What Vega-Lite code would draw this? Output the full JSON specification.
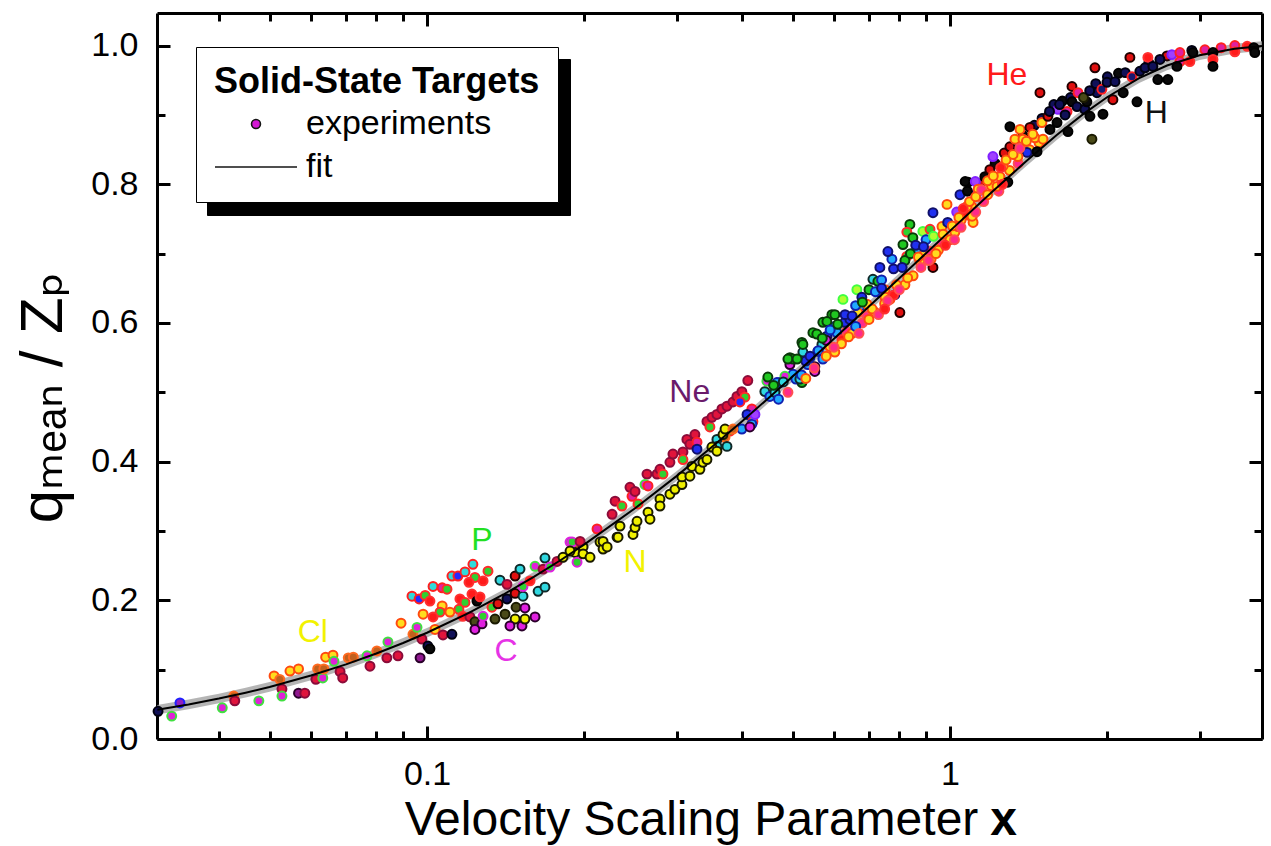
{
  "$schema": "https://vega.github.io/schema/vega-lite/v6.json",
  "width": 1105,
  "height": 726,
  "autosize": {"type": "none"},
  "padding": {"left": 157, "top": 13, "right": 9, "bottom": 107},
  "background": "white",
  "config": {
    "view": {"stroke": null},
    "font": "Liberation Sans",
    "axis": {
      "domainColor": "black", "domainWidth": 3, "tickColor": "black", "tickWidth": 3,
      "labelFont": "Liberation Sans", "labelFontSize": 34, "labelColor": "black",
      "titleFont": "Liberation Sans", "titleColor": "black", "grid": false,
      "labelFlush": false, "labelOverlap": false
    }
  },
  "datasets": {
    "fit": [
      {"x":0.0305,"f":0.0422,"lo":0.0352,"hi":0.0492},
      {"x":0.035,"f":0.0499,"lo":0.0429,"hi":0.0569},
      {"x":0.04,"f":0.0584,"lo":0.0514,"hi":0.0654},
      {"x":0.045,"f":0.0668,"lo":0.0598,"hi":0.0738},
      {"x":0.05,"f":0.0751,"lo":0.0681,"hi":0.0821},
      {"x":0.06,"f":0.0916,"lo":0.0846,"hi":0.0986},
      {"x":0.07,"f":0.1076,"lo":0.1006,"hi":0.1146},
      {"x":0.08,"f":0.1233,"lo":0.1163,"hi":0.1303},
      {"x":0.09,"f":0.1385,"lo":0.1315,"hi":0.1455},
      {"x":0.1,"f":0.1532,"lo":0.1462,"hi":0.1602},
      {"x":0.12,"f":0.1816,"lo":0.1746,"hi":0.1886},
      {"x":0.14,"f":0.2084,"lo":0.2014,"hi":0.2154},
      {"x":0.16,"f":0.2337,"lo":0.2267,"hi":0.2407},
      {"x":0.18,"f":0.2578,"lo":0.2508,"hi":0.2648},
      {"x":0.2,"f":0.2806,"lo":0.2736,"hi":0.2876},
      {"x":0.25,"f":0.3328,"lo":0.3258,"hi":0.3398},
      {"x":0.3,"f":0.3791,"lo":0.3721,"hi":0.3861},
      {"x":0.35,"f":0.4206,"lo":0.4136,"hi":0.4276},
      {"x":0.4,"f":0.4579,"lo":0.4509,"hi":0.4649},
      {"x":0.45,"f":0.4918,"lo":0.4848,"hi":0.4988},
      {"x":0.5,"f":0.5227,"lo":0.5157,"hi":0.5297},
      {"x":0.6,"f":0.5771,"lo":0.5701,"hi":0.5841},
      {"x":0.7,"f":0.6238,"lo":0.6168,"hi":0.6308},
      {"x":0.8,"f":0.6646,"lo":0.6576,"hi":0.6716},
      {"x":0.9,"f":0.7006,"lo":0.6936,"hi":0.7076},
      {"x":1.0,"f":0.7328,"lo":0.7258,"hi":0.7398},
      {"x":1.2,"f":0.7880,"lo":0.7810,"hi":0.7950},
      {"x":1.4,"f":0.8335,"lo":0.8265,"hi":0.8405},
      {"x":1.6,"f":0.8710,"lo":0.8640,"hi":0.8780},
      {"x":1.8,"f":0.9015,"lo":0.8945,"hi":0.9085},
      {"x":2.0,"f":0.9259,"lo":0.9189,"hi":0.9329},
      {"x":2.3,"f":0.9531,"lo":0.9461,"hi":0.9601},
      {"x":2.6,"f":0.9713,"lo":0.9643,"hi":0.9783},
      {"x":3.0,"f":0.9861,"lo":0.9791,"hi":0.9931},
      {"x":3.5,"f":0.9955,"lo":0.9885,"hi":1.0025},
      {"x":3.95,"f":0.9994,"lo":0.9924,"hi":1.0064}
    ],
    "lab": [
      {"x":1.285,"y":0.958,"t":"He"},
      {"x":2.48,"y":0.903,"t":"H"},
      {"x":0.318,"y":0.500,"t":"Ne"},
      {"x":0.1274,"y":0.287,"t":"P"},
      {"x":0.2499,"y":0.255,"t":"N"},
      {"x":0.0605,"y":0.155,"t":"Cl"},
      {"x":0.1416,"y":0.127,"t":"C"}
    ],
    "pts": [
      {"x":0.0306,"y":0.040,"g":"NV"},{"x":0.0325,"y":0.033,"g":"MG"},{"x":0.0337,"y":0.052,"g":"PU"},
      {"x":0.0406,"y":0.045,"g":"MG"},{"x":0.0427,"y":0.062,"g":"BR"},{"x":0.0429,"y":0.055,"g":"RP"},
      {"x":0.0477,"y":0.055,"g":"MG"},{"x":0.0510,"y":0.091,"g":"YO"},{"x":0.0523,"y":0.086,"g":"BR"},
      {"x":0.0528,"y":0.072,"g":"RP"},{"x":0.0528,"y":0.062,"g":"MG"},{"x":0.0547,"y":0.098,"g":"YO"},
      {"x":0.0568,"y":0.101,"g":"YO"},{"x":0.0568,"y":0.066,"g":"PD"},{"x":0.0584,"y":0.066,"g":"RP"},
      {"x":0.0613,"y":0.086,"g":"RP"},{"x":0.0618,"y":0.101,"g":"BR"},{"x":0.0632,"y":0.088,"g":"MG"},
      {"x":0.0635,"y":0.101,"g":"BR"},{"x":0.0640,"y":0.118,"g":"YO"},{"x":0.0661,"y":0.121,"g":"YO"},
      {"x":0.0664,"y":0.112,"g":"MG"},{"x":0.0682,"y":0.097,"g":"RP"},{"x":0.0690,"y":0.088,"g":"RP"},
      {"x":0.0707,"y":0.117,"g":"BR"},{"x":0.0723,"y":0.118,"g":"BR"},{"x":0.0768,"y":0.120,"g":"MG"},
      {"x":0.0778,"y":0.105,"g":"RP"},{"x":0.0802,"y":0.127,"g":"BR"},{"x":0.0838,"y":0.117,"g":"RP"},
      {"x":0.0842,"y":0.140,"g":"MG"},{"x":0.0880,"y":0.120,"g":"RP"},{"x":0.0892,"y":0.167,"g":"YO"},
      {"x":0.0940,"y":0.151,"g":"BR"},{"x":0.0957,"y":0.161,"g":"MG"},{"x":0.0970,"y":0.117,"g":"PD"},
      {"x":0.0978,"y":0.144,"g":"RP"},{"x":0.0983,"y":0.180,"g":"YO"},{"x":0.1004,"y":0.134,"g":"NV"},
      {"x":0.1013,"y":0.130,"g":"BK"},
      {"x":0.0936,"y":0.206,"g":"CR"},{"x":0.0966,"y":0.202,"g":"BLR"},{"x":0.0992,"y":0.207,"g":"GR"},
      {"x":0.1013,"y":0.199,"g":"RD"},{"x":0.1027,"y":0.220,"g":"CR"},{"x":0.1069,"y":0.218,"g":"MR"},
      {"x":0.1092,"y":0.216,"g":"GR"},{"x":0.1069,"y":0.192,"g":"YO"},{"x":0.1059,"y":0.183,"g":"GR"},
      {"x":0.1027,"y":0.176,"g":"RD"},{"x":0.1036,"y":0.158,"g":"YO"},{"x":0.1073,"y":0.150,"g":"RP"},
      {"x":0.1116,"y":0.151,"g":"NV"},{"x":0.1116,"y":0.235,"g":"CR"},{"x":0.1146,"y":0.235,"g":"BLR"},
      {"x":0.1182,"y":0.241,"g":"CR"},{"x":0.1224,"y":0.252,"g":"CR"},{"x":0.1235,"y":0.233,"g":"GR"},
      {"x":0.1203,"y":0.226,"g":"RD"},{"x":0.1280,"y":0.228,"g":"RD"},{"x":0.1308,"y":0.242,"g":"GR"},
      {"x":0.1156,"y":0.202,"g":"RD"},{"x":0.1182,"y":0.197,"g":"GR"},{"x":0.1219,"y":0.209,"g":"RD"},
      {"x":0.1246,"y":0.199,"g":"BK"},{"x":0.1263,"y":0.205,"g":"RD"},{"x":0.1151,"y":0.187,"g":"GR"},
      {"x":0.1106,"y":0.183,"g":"YO"},{"x":0.1171,"y":0.177,"g":"RD"},{"x":0.1208,"y":0.176,"g":"RP"},
      {"x":0.1235,"y":0.169,"g":"OL"},{"x":0.1235,"y":0.158,"g":"MB"},{"x":0.1274,"y":0.166,"g":"MB"},
      {"x":0.1280,"y":0.177,"g":"GM"},{"x":0.1331,"y":0.190,"g":"GR"},{"x":0.1367,"y":0.195,"g":"RB"},
      {"x":0.1349,"y":0.173,"g":"OL"},{"x":0.1410,"y":0.180,"g":"OL"},{"x":0.1422,"y":0.202,"g":"NV"},
      {"x":0.1379,"y":0.229,"g":"CB"},{"x":0.1422,"y":0.223,"g":"RP"},{"x":0.1474,"y":0.235,"g":"RB"},
      {"x":0.1474,"y":0.210,"g":"RB"},{"x":0.1480,"y":0.190,"g":"OL"},{"x":0.1474,"y":0.173,"g":"YB"},
      {"x":0.1441,"y":0.163,"g":"MB"},{"x":0.1519,"y":0.163,"g":"MB"},{"x":0.1539,"y":0.173,"g":"YB"},
      {"x":0.1539,"y":0.189,"g":"MB"},{"x":0.1609,"y":0.176,"g":"MB"},{"x":0.1526,"y":0.206,"g":"CB"},
      {"x":0.1526,"y":0.220,"g":"GM"},{"x":0.1574,"y":0.228,"g":"RD"},{"x":0.1506,"y":0.245,"g":"CB"},
      {"x":0.1609,"y":0.249,"g":"MG"},{"x":0.1631,"y":0.213,"g":"CB"},{"x":0.1681,"y":0.219,"g":"CB"},
      {"x":0.1667,"y":0.245,"g":"RP"},{"x":0.1681,"y":0.261,"g":"CB"},{"x":0.1719,"y":0.248,"g":"GM"},
      {"x":0.1773,"y":0.256,"g":"RP"},{"x":0.1820,"y":0.262,"g":"YB"},{"x":0.1877,"y":0.284,"g":"GM"},
      {"x":0.1919,"y":0.281,"g":"BR"},{"x":0.1919,"y":0.269,"g":"YB"},{"x":0.1936,"y":0.255,"g":"GM"},
      {"x":0.1988,"y":0.277,"g":"YB"},{"x":0.1988,"y":0.267,"g":"YB"},{"x":0.2142,"y":0.284,"g":"YB"},
      {"x":0.2171,"y":0.274,"g":"YB"},{"x":0.2309,"y":0.291,"g":"YB"},
      {"x":0.1895,"y":0.284,"g":"GM"},{"x":0.1962,"y":0.285,"g":"RP"},{"x":0.2114,"y":0.303,"g":"MR"},
      {"x":0.2259,"y":0.324,"g":"RP"},{"x":0.2289,"y":0.343,"g":"RP"},{"x":0.2359,"y":0.336,"g":"GR"},
      {"x":0.2444,"y":0.363,"g":"RP"},{"x":0.2466,"y":0.350,"g":"MR"},{"x":0.2532,"y":0.339,"g":"GR"},
      {"x":0.2499,"y":0.357,"g":"RP"},{"x":0.2634,"y":0.382,"g":"RP"},{"x":0.2611,"y":0.367,"g":"MG"},
      {"x":0.2646,"y":0.365,"g":"MR"},{"x":0.2753,"y":0.382,"g":"RP"},{"x":0.2789,"y":0.389,"g":"RP"},
      {"x":0.2826,"y":0.382,"g":"GR"},{"x":0.2914,"y":0.399,"g":"RP"},{"x":0.2953,"y":0.411,"g":"RP"},
      {"x":0.3086,"y":0.414,"g":"RP"},{"x":0.3086,"y":0.403,"g":"GR"},{"x":0.3140,"y":0.432,"g":"RP"},
      {"x":0.3182,"y":0.425,"g":"RP"},{"x":0.3253,"y":0.439,"g":"RP"},{"x":0.3283,"y":0.428,"g":"MR"},
      {"x":0.3430,"y":0.458,"g":"RP"},{"x":0.3475,"y":0.450,"g":"GR"},{"x":0.3506,"y":0.464,"g":"RP"},
      {"x":0.3584,"y":0.468,"g":"RP"},{"x":0.3664,"y":0.476,"g":"RP"},{"x":0.3746,"y":0.480,"g":"RP"},
      {"x":0.3846,"y":0.486,"g":"RP"},{"x":0.3914,"y":0.494,"g":"RP"},{"x":0.4000,"y":0.501,"g":"RP"},
      {"x":0.4106,"y":0.517,"g":"RP"},{"x":0.4054,"y":0.493,"g":"GR"},{"x":0.3966,"y":0.486,"g":"BLR"},
      {"x":0.4180,"y":0.476,"g":"MR"},{"x":0.4092,"y":0.468,"g":"BL"},{"x":0.4199,"y":0.458,"g":"CR"},
      {"x":0.4180,"y":0.454,"g":"AZ"},{"x":0.4000,"y":0.447,"g":"AZ"},{"x":0.4237,"y":0.468,"g":"VI"},
      {"x":0.4144,"y":0.450,"g":"MB"},{"x":0.3795,"y":0.444,"g":"GR"},{"x":0.3714,"y":0.435,"g":"BR"},
      {"x":0.3584,"y":0.432,"g":"CB"},{"x":0.3746,"y":0.422,"g":"CB"},{"x":0.3283,"y":0.418,"g":"BL"},
      {"x":0.3584,"y":0.422,"g":"CB"},
      {"x":0.1877,"y":0.271,"g":"YB"},{"x":0.2050,"y":0.262,"g":"YB"},{"x":0.2171,"y":0.285,"g":"YB"},
      {"x":0.2210,"y":0.277,"g":"YB"},{"x":0.2319,"y":0.291,"g":"YB"},{"x":0.2339,"y":0.307,"g":"YB"},
      {"x":0.2477,"y":0.295,"g":"YB"},{"x":0.2499,"y":0.305,"g":"YB"},{"x":0.2521,"y":0.314,"g":"YB"},
      {"x":0.2646,"y":0.327,"g":"YB"},{"x":0.2669,"y":0.317,"g":"YB"},{"x":0.2789,"y":0.346,"g":"YB"},
      {"x":0.2789,"y":0.336,"g":"YB"},{"x":0.2914,"y":0.353,"g":"YB"},{"x":0.2979,"y":0.360,"g":"YB"},
      {"x":0.3072,"y":0.367,"g":"YB"},{"x":0.3072,"y":0.378,"g":"YB"},{"x":0.3182,"y":0.379,"g":"YB"},
      {"x":0.3211,"y":0.393,"g":"YB"},{"x":0.3325,"y":0.389,"g":"YB"},{"x":0.3370,"y":0.399,"g":"YB"},
      {"x":0.3430,"y":0.403,"g":"YB"},{"x":0.3506,"y":0.421,"g":"YB"},{"x":0.3584,"y":0.415,"g":"YB"},
      {"x":0.3681,"y":0.439,"g":"YB"},{"x":0.3714,"y":0.447,"g":"YB"},{"x":0.3846,"y":0.447,"g":"BR"},
      {"x":0.4466,"y":0.516,"g":"MG"},{"x":0.4627,"y":0.500,"g":"AZ"},{"x":0.5010,"y":0.526,"g":"AZ"},
      {"x":0.5210,"y":0.514,"g":"GK"},{"x":0.4942,"y":0.550,"g":"GK"},{"x":0.5210,"y":0.572,"g":"GK"},
      {"x":0.5233,"y":0.558,"g":"CB"},{"x":0.5397,"y":0.550,"g":"AZ"},{"x":0.5515,"y":0.537,"g":"MB"},
      {"x":0.5587,"y":0.559,"g":"BL"},{"x":0.5713,"y":0.548,"g":"AZ"},{"x":0.5469,"y":0.586,"g":"GK"},
      {"x":0.5690,"y":0.569,"g":"CB"},{"x":0.5816,"y":0.581,"g":"BL"},{"x":0.5893,"y":0.566,"g":"YO"},
      {"x":0.6023,"y":0.558,"g":"YO"},{"x":0.5713,"y":0.601,"g":"GK"},{"x":0.5946,"y":0.612,"g":"GK"},
      {"x":0.6023,"y":0.595,"g":"AZ"},{"x":0.6078,"y":0.586,"g":"AZ"},{"x":0.6216,"y":0.576,"g":"RD"},
      {"x":0.6343,"y":0.588,"g":"PK"},{"x":0.6292,"y":0.601,"g":"BL"},{"x":0.6436,"y":0.605,"g":"BL"},
      {"x":0.6243,"y":0.634,"g":"LG"},{"x":0.6637,"y":0.648,"g":"LG"},{"x":0.6784,"y":0.637,"g":"BL"},
      {"x":0.6725,"y":0.624,"g":"AZ"},{"x":0.6937,"y":0.627,"g":"YO"},{"x":0.6665,"y":0.615,"g":"YO"},
      {"x":0.6937,"y":0.610,"g":"PK"},{"x":0.7123,"y":0.617,"g":"PK"},{"x":0.7123,"y":0.663,"g":"CB"},
      {"x":0.7280,"y":0.660,"g":"GK"},{"x":0.7344,"y":0.644,"g":"AZ"},{"x":0.7511,"y":0.648,"g":"YO"},
      {"x":0.7511,"y":0.637,"g":"YO"},{"x":0.7675,"y":0.634,"g":"YO"},{"x":0.7846,"y":0.641,"g":"BL"},
      {"x":0.7344,"y":0.680,"g":"BL"},{"x":0.7743,"y":0.692,"g":"AZ"},{"x":0.7608,"y":0.703,"g":"BL"},
      {"x":0.8020,"y":0.615,"g":"RB"},{"x":0.8130,"y":0.713,"g":"GK"},{"x":0.8381,"y":0.742,"g":"GK"},
      {"x":0.8270,"y":0.731,"g":"GR"},{"x":0.8492,"y":0.723,"g":"GK"},{"x":0.8640,"y":0.706,"g":"AZ"},
      {"x":0.8270,"y":0.696,"g":"GR"},{"x":0.8758,"y":0.689,"g":"YO"},{"x":0.8955,"y":0.702,"g":"YO"},
      {"x":0.9158,"y":0.703,"g":"PK"},{"x":0.9278,"y":0.680,"g":"RB"},{"x":0.8875,"y":0.732,"g":"LG"},
      {"x":0.9158,"y":0.735,"g":"GR"},{"x":0.9278,"y":0.759,"g":"BL"},{"x":0.9654,"y":0.739,"g":"YO"},
      {"x":0.9869,"y":0.771,"g":"YO"},{"x":0.9654,"y":0.713,"g":"PK"},{"x":1.000,"y":0.720,"g":"YO"},
      {"x":1.022,"y":0.731,"g":"YO"},{"x":1.036,"y":0.739,"g":"RD"},{"x":1.045,"y":0.785,"g":"BL"},
      {"x":1.078,"y":0.767,"g":"BK"},{"x":1.069,"y":0.756,"g":"RD"},{"x":1.102,"y":0.752,"g":"YO"},
      {"x":1.083,"y":0.803,"g":"BK"},{"x":1.127,"y":0.788,"g":"VI"},{"x":1.107,"y":0.745,"g":"YO"},
      {"x":0.4426,"y":0.501,"g":"CB"},{"x":0.4729,"y":0.514,"g":"AZ"},{"x":0.5074,"y":0.519,"g":"AZ"},
      {"x":0.4835,"y":0.523,"g":"MG"},{"x":0.4485,"y":0.522,"g":"GK"},{"x":0.4668,"y":0.514,"g":"AZ"},
      {"x":0.4525,"y":0.494,"g":"AZ"},{"x":0.4627,"y":0.500,"g":"CB"},{"x":0.4942,"y":0.540,"g":"MB"},
      {"x":0.5164,"y":0.519,"g":"CB"},{"x":0.5350,"y":0.540,"g":"AZ"},{"x":0.5515,"y":0.530,"g":"MB"},
      {"x":0.5233,"y":0.569,"g":"GK"},{"x":0.5010,"y":0.548,"g":"GK"},{"x":0.4899,"y":0.548,"g":"GK"},
      {"x":0.5563,"y":0.584,"g":"GK"},{"x":0.5816,"y":0.602,"g":"GK"},{"x":0.6023,"y":0.612,"g":"GK"},
      {"x":0.62,"y":0.570,"g":"YO"},{"x":0.65,"y":0.585,"g":"YO"},{"x":0.68,"y":0.600,"g":"PK"},
      {"x":0.72,"y":0.615,"g":"YO"},{"x":0.75,"y":0.628,"g":"YO"},{"x":0.78,"y":0.640,"g":"RD"},
      {"x":0.82,"y":0.655,"g":"YO"},{"x":0.85,"y":0.668,"g":"YO"},{"x":0.88,"y":0.680,"g":"PK"},
      {"x":0.92,"y":0.692,"g":"YO"},{"x":0.95,"y":0.705,"g":"YO"},{"x":0.98,"y":0.712,"g":"RD"},
      {"x":0.70,"y":0.605,"g":"YO"},{"x":0.76,"y":0.632,"g":"PK"},{"x":0.63,"y":0.612,"g":"BL"},
      {"x":0.66,"y":0.625,"g":"AZ"},{"x":0.70,"y":0.648,"g":"GK"},{"x":0.74,"y":0.662,"g":"AZ"},
      {"x":0.78,"y":0.678,"g":"BL"},{"x":0.82,"y":0.690,"g":"GK"},{"x":0.86,"y":0.712,"g":"BL"},
      {"x":0.90,"y":0.720,"g":"AZ"},{"x":0.56,"y":0.560,"g":"AZ"},{"x":0.53,"y":0.545,"g":"BL"},
      {"x":0.58,"y":0.575,"g":"MB"},
      {"x":0.46,"y":0.510,"g":"GK"},{"x":0.47,"y":0.490,"g":"AZ"},{"x":0.48,"y":0.515,"g":"CB"},
      {"x":0.49,"y":0.500,"g":"PK"},{"x":0.51,"y":0.548,"g":"GK"},{"x":0.52,"y":0.525,"g":"AZ"},
      {"x":0.53,"y":0.520,"g":"YO"},{"x":0.54,"y":0.552,"g":"BL"},{"x":0.55,"y":0.535,"g":"PK"},
      {"x":0.57,"y":0.578,"g":"GK"},{"x":0.58,"y":0.552,"g":"YO"},{"x":0.59,"y":0.590,"g":"AZ"},
      {"x":0.60,"y":0.565,"g":"PK"},{"x":0.61,"y":0.598,"g":"GK"},{"x":0.64,"y":0.580,"g":"YO"},
      {"x":0.65,"y":0.610,"g":"BL"},{"x":0.66,"y":0.595,"g":"AZ"},{"x":0.67,"y":0.585,"g":"PK"},
      {"x":0.68,"y":0.630,"g":"GK"},{"x":0.71,"y":0.620,"g":"YO"},{"x":0.72,"y":0.645,"g":"AZ"},
      {"x":0.73,"y":0.612,"g":"PK"},{"x":0.74,"y":0.650,"g":"BL"},{"x":0.75,"y":0.620,"g":"RD"},
      {"x":0.79,"y":0.655,"g":"YO"},{"x":0.80,"y":0.648,"g":"PK"},{"x":0.81,"y":0.680,"g":"BL"},
      {"x":0.83,"y":0.665,"g":"YO"},{"x":0.84,"y":0.700,"g":"GK"},{"x":0.87,"y":0.695,"g":"YO"},
      {"x":0.89,"y":0.710,"g":"BL"},{"x":0.91,"y":0.690,"g":"PK"},{"x":0.93,"y":0.725,"g":"LG"},
      {"x":0.94,"y":0.700,"g":"YO"},{"x":0.97,"y":0.728,"g":"YO"},{"x":0.99,"y":0.745,"g":"BL"},
      {"x":1.02,"y":0.720,"g":"PK"},{"x":1.03,"y":0.760,"g":"VI"},{"x":1.05,"y":0.748,"g":"YO"},
      {"x":1.08,"y":0.790,"g":"BK"},{"x":1.10,"y":0.768,"g":"YO"},{"x":1.14,"y":0.800,"g":"RB"},
      {"x":1.16,"y":0.775,"g":"PK"},{"x":1.20,"y":0.798,"g":"YO"},{"x":1.22,"y":0.830,"g":"BK"},
      {"x":1.24,"y":0.790,"g":"PK"},{"x":1.27,"y":0.845,"g":"RB"},{"x":1.30,"y":0.820,"g":"YO"},
      {"x":1.33,"y":0.855,"g":"BL"},{"x":1.35,"y":0.830,"g":"PK"},{"x":1.38,"y":0.870,"g":"BK"},
      {"x":1.42,"y":0.850,"g":"YO"},{"x":1.45,"y":0.885,"g":"NV"},{"x":1.48,"y":0.860,"g":"YO"},
      {"x":1.50,"y":0.895,"g":"NV"},{"x":1.58,"y":0.915,"g":"NV"},{"x":1.64,"y":0.920,"g":"BK"},
      {"x":1.70,"y":0.925,"g":"NV"},{"x":1.90,"y":0.945,"g":"NV"},{"x":2.00,"y":0.955,"g":"NV"},
      {"x":2.10,"y":0.960,"g":"BK"},{"x":2.40,"y":0.975,"g":"NV"},{"x":2.60,"y":0.985,"g":"RB"},
      {"x":2.90,"y":0.993,"g":"NV"},{"x":3.30,"y":0.997,"g":"MR"},{"x":3.70,"y":0.999,"g":"RD"},
      {"x":1.069,"y":0.804,"g":"BK"},{"x":1.118,"y":0.804,"g":"VI"},{"x":1.078,"y":0.768,"g":"YO"},
      {"x":1.102,"y":0.754,"g":"YO"},{"x":1.132,"y":0.793,"g":"YO"},{"x":1.166,"y":0.811,"g":"BK"},
      {"x":1.192,"y":0.821,"g":"RB"},{"x":1.208,"y":0.840,"g":"VI"},{"x":1.230,"y":0.797,"g":"YO"},
      {"x":1.246,"y":0.811,"g":"YO"},{"x":1.263,"y":0.826,"g":"YO"},{"x":1.302,"y":0.854,"g":"RB"},
      {"x":1.302,"y":0.883,"g":"BK"},{"x":1.290,"y":0.803,"g":"BK"},{"x":1.331,"y":0.865,"g":"YO"},
      {"x":1.361,"y":0.879,"g":"YO"},{"x":1.379,"y":0.865,"g":"YO"},{"x":1.404,"y":0.846,"g":"BL"},
      {"x":1.349,"y":0.840,"g":"YO"},{"x":1.422,"y":0.882,"g":"RB"},{"x":1.454,"y":0.867,"g":"YO"},
      {"x":1.467,"y":0.847,"g":"BK"},{"x":1.506,"y":0.865,"g":"YO"},{"x":1.499,"y":0.889,"g":"YO"},
      {"x":1.539,"y":0.898,"g":"RB"},{"x":1.553,"y":0.879,"g":"BK"},{"x":1.602,"y":0.889,"g":"BK"},
      {"x":1.609,"y":0.908,"g":"VI"},{"x":1.486,"y":0.932,"g":"RB"},{"x":1.674,"y":0.905,"g":"MR"},
      {"x":1.681,"y":0.876,"g":"BK"},{"x":1.711,"y":0.919,"g":"BK"},{"x":1.711,"y":0.941,"g":"RB"},
      {"x":1.757,"y":0.932,"g":"MR"},{"x":1.749,"y":0.912,"g":"NV"},{"x":1.811,"y":0.908,"g":"NV"},
      {"x":1.827,"y":0.919,"g":"BK"},{"x":1.868,"y":0.865,"g":"OL"},{"x":1.893,"y":0.968,"g":"RB"},
      {"x":1.852,"y":0.898,"g":"BK"},{"x":1.961,"y":0.901,"g":"BK"},{"x":1.910,"y":0.932,"g":"NV"},
      {"x":1.952,"y":0.937,"g":"NR"},{"x":1.996,"y":0.947,"g":"NV"},{"x":2.049,"y":0.922,"g":"RB"},
      {"x":2.068,"y":0.948,"g":"NV"},{"x":2.144,"y":0.932,"g":"BK"},{"x":2.163,"y":0.961,"g":"NV"},
      {"x":2.208,"y":0.983,"g":"RB"},{"x":2.228,"y":0.955,"g":"NR"},{"x":2.278,"y":0.919,"g":"BK"},
      {"x":2.307,"y":0.963,"g":"NV"},{"x":2.390,"y":0.983,"g":"RD"},{"x":2.360,"y":0.968,"g":"NV"},
      {"x":2.443,"y":0.970,"g":"NV"},{"x":2.497,"y":0.951,"g":"BK"},{"x":2.520,"y":0.980,"g":"NV"},
      {"x":2.610,"y":0.951,"g":"BK"},{"x":2.656,"y":0.987,"g":"VI"},{"x":2.752,"y":0.990,"g":"MR"},
      {"x":2.752,"y":0.977,"g":"MR"},{"x":2.875,"y":0.977,"g":"RD"},{"x":2.716,"y":0.970,"g":"BK"},
      {"x":2.913,"y":0.990,"g":"BK"},{"x":3.072,"y":0.994,"g":"MR"},{"x":3.183,"y":0.990,"g":"BK"},
      {"x":3.183,"y":0.980,"g":"RD"},{"x":3.183,"y":0.970,"g":"BK"},{"x":3.505,"y":1.000,"g":"MR"},
      {"x":3.505,"y":0.991,"g":"RD"},{"x":3.810,"y":0.997,"g":"BK"},{"x":3.827,"y":0.990,"g":"BK"},
      {"x":1.01,"y":0.740,"g":"YO"},{"x":1.04,"y":0.752,"g":"YO"},{"x":1.06,"y":0.765,"g":"RD"},
      {"x":1.09,"y":0.775,"g":"YO"},{"x":1.12,"y":0.782,"g":"YO"},{"x":1.15,"y":0.792,"g":"PK"},
      {"x":1.18,"y":0.805,"g":"YO"},{"x":1.21,"y":0.812,"g":"YO"},{"x":1.25,"y":0.824,"g":"RD"},
      {"x":1.28,"y":0.835,"g":"YO"},{"x":1.32,"y":0.843,"g":"YO"},{"x":1.36,"y":0.852,"g":"PK"},
      {"x":1.40,"y":0.862,"g":"YO"},{"x":1.44,"y":0.872,"g":"YO"},{"x":1.12,"y":0.760,"g":"PK"},
      {"x":1.05,"y":0.738,"g":"PK"},{"x":1.18,"y":0.785,"g":"YO"},{"x":1.26,"y":0.800,"g":"RD"},
      {"x":1.55,"y":0.905,"g":"NV"},{"x":1.62,"y":0.915,"g":"NV"},{"x":1.66,"y":0.900,"g":"NV"},
      {"x":1.80,"y":0.925,"g":"OL"},{"x":1.85,"y":0.935,"g":"NV"}
    ]
  },
  "resolve": {"axis": {"x": "independent", "y": "independent"}},
  "layer": [
    {
      "data": {"name": "fit"},
      "mark": {"type": "area", "color": "#a8a8a8", "opacity": 0.85},
      "encoding": {
        "x": {"field": "x", "type": "quantitative",
          "scale": {"type": "log", "domain": [0.03046, 3.95], "nice": false},
          "axis": {
            "orient": "bottom",
            "values": [0.04,0.05,0.06,0.07,0.08,0.09,0.1,0.2,0.3,0.4,0.5,0.6,0.7,0.8,0.9,1,2,3],
            "labelExpr": "datum.value == 0.1 ? '0.1' : (datum.value == 1 ? '1' : '')",
            "tickSize": {"condition": {"test": "datum.value == 0.1 || datum.value == 1", "value": -13}, "value": -8},
            "labelPadding": 31,
            "title": "Velocity Scaling Parameter",
            "titleFontSize": 48, "titleFontWeight": "normal",
            "titleX": 534, "titleY": 95, "titleAlign": "center", "titleBaseline": "alphabetic"
          }
        },
        "y": {"field": "lo", "type": "quantitative",
          "scale": {"domain": [0, 1.047], "nice": false, "zero": false},
          "axis": {
            "orient": "left",
            "values": [0,0.1,0.2,0.3,0.4,0.5,0.6,0.7,0.8,0.9,1.0],
            "labelExpr": "round(datum.value*10) % 2 == 0 ? format(datum.value, '.1f') : ''",
            "tickSize": {"condition": {"test": "round(datum.value*10) % 2 == 0", "value": -13}, "value": -8},
            "labelPadding": 32,
            "title": "qₘₑₐₙ / Zₚ",
            "titleFont": "Liberation Sans, DejaVu Sans",
            "titleFontSize": 60, "titleFontWeight": "normal",
            "titleAngle": 270, "titleX": -114, "titleY": 384, "titleAlign": "center", "titleBaseline": "middle"
          }
        },
        "y2": {"field": "hi"}
      }
    },
    {
      "data": {"name": "pts"},
      "mark": {"type": "point", "filled": true, "strokeWidth": 2, "opacity": 1},
      "encoding": {
        "x": {"field": "x", "type": "quantitative",
          "scale": {"type": "log", "domain": [0.03046, 3.95], "nice": false},
          "axis": {
            "orient": "top",
            "values": [0.04,0.05,0.06,0.07,0.08,0.09,0.1,0.2,0.3,0.4,0.5,0.6,0.7,0.8,0.9,1,2,3],
            "labels": false,
            "tickSize": {"condition": {"test": "datum.value == 0.1 || datum.value == 1", "value": -13}, "value": -8},
            "title": "x", "titleFontSize": 48, "titleFontWeight": "bold",
            "titleX": 846, "titleY": 821, "titleAlign": "center", "titleBaseline": "alphabetic"
          }
        },
        "y": {"field": "y", "type": "quantitative",
          "scale": {"domain": [0, 1.047], "nice": false, "zero": false},
          "axis": {
            "orient": "right",
            "values": [0,0.1,0.2,0.3,0.4,0.5,0.6,0.7,0.8,0.9,1.0],
            "labels": false,
            "tickSize": {"condition": {"test": "round(datum.value*10) % 2 == 0", "value": -13}, "value": -8},
            "title": null
          }
        },
        "fill": {"field": "g", "type": "nominal", "legend": null,
          "scale": {
            "domain": ["RP","MG","YO","BR","PD","NV","BK","CR","GR","RD","BLR","YB","OL","MB","CB","RB","GM","AZ","BL","GK","LG","PK","VI","NR","MR","PU"],
            "range": ["#e0143c","#e020d8","#ffdc1e","#c0601e","#901890","#101058","#0a0a0a","#30dada","#30d030","#ff1a1a","#2828ff","#f0f000","#4a4a18","#e020e0","#30d8e0","#e01010","#30d030","#20a8ff","#2030f0","#20c820","#b0ff30","#ff2a8a","#a040ff","#181870","#e020a0","#9020c0"]
          }
        },
        "stroke": {"field": "g", "type": "nominal", "legend": null,
          "scale": {
            "domain": ["RP","MG","YO","BR","PD","NV","BK","CR","GR","RD","BLR","YB","OL","MB","CB","RB","GM","AZ","BL","GK","LG","PK","VI","NR","MR","PU"],
            "range": ["#8a0c3a","#40e040","#ff4a10","#ff6a20","#2a002a","#000010","#000000","#ff2020","#ff2a2a","#ff3030","#ff2020","#1a1a00","#1a1a00","#2a002a","#102828","#200000","#e020e0","#1020b0","#10106a","#0a3a0a","#40ff40","#ff5050","#8020ff","#ff2020","#ff2020","#2020ff"]
          }
        },
        "shape": {"datum": "experiments",
          "scale": {"domain": ["experiments", "fit"], "range": ["circle", "stroke"]},
          "legend": {
            "title": "Solid-State Targets", "orient": "none", "legendX": 39, "legendY": 34, "zindex": 2,
            "fillColor": "white", "strokeColor": "black", "padding": 18,
            "titleFont": "Liberation Sans", "titleFontSize": 36, "titleFontWeight": "bold", "titleColor": "black", "titlePadding": 6, "titleLimit": 1000,
            "labelFont": "Liberation Sans", "labelFontSize": 34, "labelColor": "black", "labelOffset": 8, "labelLimit": 1000,
            "symbolFillColor": "#d418d4", "symbolStrokeColor": "#151515", "symbolStrokeWidth": 1.6, "rowPadding": 9, "clipHeight": 34
          }
        },
        "size": {"datum": "experiments",
          "scale": {"domain": ["experiments", "fit"], "range": [80, 6724]},
          "legend": {
            "title": "Solid-State Targets", "orient": "none", "legendX": 39, "legendY": 34, "zindex": 2,
            "fillColor": "white", "strokeColor": "black", "padding": 18,
            "titleFont": "Liberation Sans", "titleFontSize": 36, "titleFontWeight": "bold", "titleColor": "black", "titlePadding": 6, "titleLimit": 1000,
            "labelFont": "Liberation Sans", "labelFontSize": 34, "labelColor": "black", "labelOffset": 8, "labelLimit": 1000,
            "symbolFillColor": "#d418d4", "symbolStrokeColor": "#151515", "symbolStrokeWidth": 1.6, "rowPadding": 9, "clipHeight": 34
          }
        }
      }
    },
    {
      "data": {"name": "fit"},
      "mark": {"type": "line", "color": "black", "strokeWidth": 2},
      "encoding": {
        "x": {"field": "x", "type": "quantitative", "scale": {"type": "log", "domain": [0.03046, 3.95], "nice": false}, "axis": null},
        "y": {"field": "f", "type": "quantitative", "scale": {"domain": [0, 1.047], "nice": false, "zero": false}, "axis": null},
        "opacity": {"datum": "o1",
          "scale": {"domain": ["o1"], "range": [1]},
          "legend": {
            "title": null, "orient": "none", "legendX": 50, "legendY": 46, "zindex": 1,
            "fillColor": "black", "strokeColor": "black", "padding": 0,
            "labelExpr": "''", "labelOffset": 0, "labelFontSize": 1,
            "symbolType": "stroke", "symbolSize": 131044, "symbolStrokeColor": "black", "symbolStrokeWidth": 1,
            "clipHeight": 156
          }
        }
      }
    },
    {
      "data": {"name": "lab"},
      "mark": {"type": "text", "font": "Liberation Sans", "fontSize": 32, "align": "center", "baseline": "middle"},
      "encoding": {
        "x": {"field": "x", "type": "quantitative", "scale": {"type": "log", "domain": [0.03046, 3.95], "nice": false}, "axis": null},
        "y": {"field": "y", "type": "quantitative", "scale": {"domain": [0, 1.047], "nice": false, "zero": false}, "axis": null},
        "text": {"field": "t"},
        "color": {"field": "t", "type": "nominal", "legend": null,
          "scale": {"domain": ["He","H","Ne","P","N","Cl","C"], "range": ["#ff1a1a","#111111","#6b1b6b","#22e022","#f2f200","#f2f200","#e633e6"]}
        }
      }
    }
  ]
}
